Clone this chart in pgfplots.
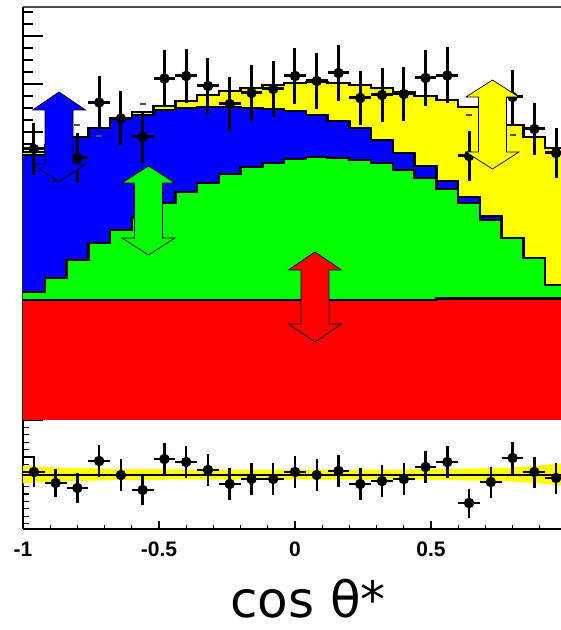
\documentclass[border=0pt]{standalone}
\usepackage{pgfplots}
\pgfplotsset{compat=1.18}
\usepackage{pgfplotstable}
\usepackage{fontspec}
\setmainfont{Liberation Sans}
\newfontfamily\labfont{DejaVu Sans}
\definecolor{rootyellow}{RGB}{255,255,0}
\definecolor{rootblue}{RGB}{0,0,255}
\definecolor{rootgreen}{RGB}{0,255,0}
\definecolor{rootred}{RGB}{255,0,0}

\pgfplotstableread{
x tot blue green red
-1.00 268 265 128 120
-0.92 275 273 142 120
-0.84 283 283 160 120
-0.76 292 292 177 120
-0.68 302 302 190 120
-0.60 308 305 203 120
-0.52 314 310 217 120
-0.44 319 312 228 120
-0.36 325 313 237 120
-0.28 329 313 246 120
-0.20 332 312 253 120
-0.12 335 311 257 120
-0.04 337 309 261 120
0.04 338 305 263 120
0.12 337 299 262 120
0.20 335 292 260 120
0.28 332 280 257 120
0.36 328 267 250 120
0.44 324 254 242 120
0.52 320 239 231 121.5
0.60 313 223 217 121.5
0.68 303 204 200 121.5
0.76 295 182 182 121.5
0.84 283 162 162 121.5
0.92 272 135 135 121.5
1.00 272 135 135 121.5
}\stack

\pgfplotstableread{
x y ex ey
-0.96 271 0.04 26
-0.88 264 0.04 26
-0.80 262 0.04 25
-0.72 317.5 0.04 26
-0.64 301.5 0.04 27
-0.56 283 0.04 26
-0.48 341.5 0.04 28
-0.40 344 0.04 27
-0.32 334 0.04 28
-0.24 316 0.04 27
-0.16 327 0.04 28
-0.08 331 0.04 28
0.00 344 0.04 28
0.08 339 0.04 28
0.16 347 0.04 28
0.24 322 0.04 27
0.32 325 0.04 27
0.40 326 0.04 27
0.48 342 0.04 28
0.56 344.5 0.04 28
0.64 264 0.04 25
0.72 298 0.04 26
0.80 323 0.04 27
0.88 291 0.04 26
0.96 267 0.04 25
}\updata

\pgfplotstableread{
x y ex ey
-0.96 57 0.04 15
-0.88 46 0.04 14
-0.80 41 0.04 15
-0.72 68 0.04 16
-0.64 54 0.04 16
-0.56 39 0.04 15
-0.48 70 0.04 16
-0.40 67 0.04 16
-0.32 59 0.04 16
-0.24 45 0.04 16
-0.16 50 0.04 16
-0.08 50 0.04 16
0.00 57 0.04 16
0.08 54 0.04 16
0.16 58 0.04 16
0.24 45 0.04 16
0.32 48 0.04 16
0.40 50 0.04 16
0.48 62 0.04 16
0.56 67 0.04 16
0.64 26 0.04 14.5
0.72 47 0.04 15.5
0.80 71 0.04 16
0.88 57 0.04 15.5
0.96 51 0.04 15.5
}\lowdata

\pgfplotstableread{
x y
-1.00 63.5
-0.96 62.5
-0.88 61.5
-0.80 61
-0.72 60.5
-0.64 60
-0.56 60
-0.40 59.5
0.40 59.5
0.56 60
0.64 60.5
0.72 61
0.80 61.5
0.88 63
0.96 65
1.00 66
1.00 43
0.96 44
0.88 46
0.80 47.5
0.72 48
0.64 48.5
0.56 49
0.40 49.5
-0.40 49.5
-0.56 49
-0.64 49
-0.72 48.5
-0.80 48
-0.88 47.5
-0.96 46.5
-1.00 45.5
}\band

\begin{document}
\begin{tikzpicture}
\useasboundingbox (-23pt,-101pt) rectangle (538pt,529pt);

% ---------------- upper panel ----------------
\begin{axis}[
  at={(0pt,109pt)}, anchor=south west,
  scale only axis, width=538pt, height=413pt,
  xmin=-1, xmax=0.978, ymin=0, ymax=413,
  clip marker paths=true,
  axis x line*=top, axis y line*=left,
  x axis line style={black!70, line width=1.2pt},
  y axis line style={black, line width=1.8pt},
  xtick=\empty,
  ytick={0,48,...,384}, minor ytick={0,12,...,408},
  yticklabels={},
  tick align=inside,
  major tick length=20pt, minor tick length=10pt,
  every tick/.style={black, line width=1.2pt},
]
\addplot[fill=rootyellow, draw=none, const plot mark left] table[x=x,y=tot]{\stack} \closedcycle;
\addplot[black, line width=2.5pt, const plot mark left] table[x=x,y=tot]{\stack};
\addplot[fill=rootblue, draw=none, const plot mark left] table[x=x,y=blue]{\stack} \closedcycle;
\addplot[black, line width=2.5pt, const plot mark left] table[x=x,y=blue]{\stack};
\addplot[fill=rootgreen, draw=none, const plot mark left] table[x=x,y=green]{\stack} \closedcycle;
\addplot[black, line width=2.5pt, const plot mark left] table[x=x,y=green]{\stack};
\addplot[fill=rootred, draw=none, const plot mark left] table[x=x,y=red]{\stack} \closedcycle;
\addplot[black, line width=2.5pt, const plot mark left] table[x=x,y=red]{\stack};

\addplot[only marks, mark=-, mark size=3pt, black!70, mark options={line width=2pt}]
  coordinates {(-0.80,295) (-0.72,284) (-0.56,316) (0.64,305) (0.80,285)};

\addplot[black, only marks, mark=*, mark size=5pt,
  error bars/.cd, x dir=both, x explicit, y dir=both, y explicit, error mark=none,
  error bar style={line width=3pt, black}]
  table[x=x, y=y, x error=ex, y error=ey] {\updata};

% arrows
\draw[fill=rootblue, draw=black, line width=0.7pt] (axis cs:-0.8676,328) -- (axis cs:-0.7702,310) -- (axis cs:-0.8161,310) -- (axis cs:-0.8161,256) -- (axis cs:-0.7702,256) -- (axis cs:-0.8676,238) -- (axis cs:-0.965,256) -- (axis cs:-0.9191,256) -- (axis cs:-0.9191,310) -- (axis cs:-0.965,310) -- cycle;
\draw[fill=rootgreen, draw=black, line width=0.7pt] (axis cs:-0.5386,254) -- (axis cs:-0.4412,237) -- (axis cs:-0.4871,237) -- (axis cs:-0.4871,182) -- (axis cs:-0.4412,182) -- (axis cs:-0.5386,165) -- (axis cs:-0.636,182) -- (axis cs:-0.5901,182) -- (axis cs:-0.5901,237) -- (axis cs:-0.636,237) -- cycle;
\draw[fill=rootred, draw=black, line width=0.7pt] (axis cs:0.0735,168) -- (axis cs:0.1709,150) -- (axis cs:0.125,150) -- (axis cs:0.125,96) -- (axis cs:0.1709,96) -- (axis cs:0.0735,78) -- (axis cs:-0.0239,96) -- (axis cs:0.022,96) -- (axis cs:0.022,150) -- (axis cs:-0.0239,150) -- cycle;
\draw[fill=rootyellow, draw=black, line width=0.7pt] (axis cs:0.726,340) -- (axis cs:0.8234,323) -- (axis cs:0.7775,323) -- (axis cs:0.7775,268) -- (axis cs:0.8234,268) -- (axis cs:0.726,251) -- (axis cs:0.6286,268) -- (axis cs:0.6745,268) -- (axis cs:0.6745,323) -- (axis cs:0.6286,323) -- cycle;
\end{axis}

% ---------------- lower panel ----------------
\begin{axis}[
  at={(0pt,0pt)}, anchor=south west,
  scale only axis, width=538pt, height=109pt,
  xmin=-1, xmax=0.978, ymin=0, ymax=109,
  clip marker paths=true,
  axis x line*=bottom, axis y line*=left,
  x axis line style={black, line width=2pt},
  y axis line style={black, line width=1.8pt},
  xtick={-1,-0.5,0,0.5}, xticklabels={-1,-0.5,0,0.5},
  minor xtick={-0.9,-0.8,-0.7,-0.6,-0.4,-0.3,-0.2,-0.1,0.1,0.2,0.3,0.4,0.6,0.7,0.8,0.9},
  ytick={72}, yticklabels={},
  minor ytick={5.4,12.8,20.2,27.6,35,42.4,49.8,57.2,64.6,79.4,86.8,94.2,101.6},
  tick align=inside,
  major tick length=12pt, minor tick length=6pt,
  every major x tick/.append style={/pgfplots/major tick length=8pt},
  every minor x tick/.append style={/pgfplots/minor tick length=4pt},
  every tick/.style={black, line width=1.2pt},
  xticklabel style={font=\bfseries\fontsize{21}{21}\selectfont, inner sep=0pt, anchor=north, yshift=-13pt},
  xlabel={cos θ*},
  xlabel style={at={(axis description cs:0.5297,0)}, anchor=base, yshift=-88pt, inner sep=0pt, font=\labfont\fontsize{50}{50}\selectfont},
]
\addplot[fill=rootyellow, draw=none] table[x=x,y=y]{\band} -- cycle;
\addplot[black, line width=2pt] coordinates {(-1,54.5) (1,54.5)};
\addplot[black, only marks, mark=*, mark size=5pt,
  error bars/.cd, x dir=both, x explicit, y dir=both, y explicit, error mark=none,
  error bar style={line width=2.5pt, black}]
  table[x=x, y=y, x error=ex, y error=ey] {\lowdata};
\end{axis}
\end{tikzpicture}
\end{document}
